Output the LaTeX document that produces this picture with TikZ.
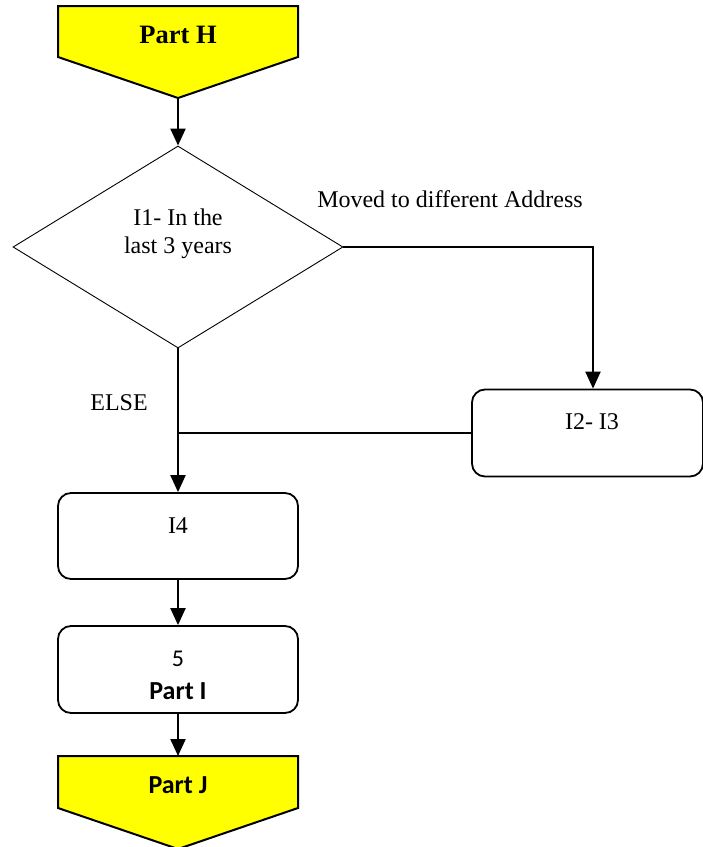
\documentclass[tikz,border=0pt]{standalone}
\usepackage{fontspec}
\setmainfont{Liberation Serif}
\newfontfamily\calibri{Carlito}
\usetikzlibrary{shapes.geometric,arrows.meta}
\definecolor{partyellow}{RGB}{255,255,0}
\begin{document}
\begin{tikzpicture}[x=1pt,y=-1pt,
  conn/.style={line width=2.2pt,-{Triangle[width=15pt,length=17pt]}},
  plain/.style={line width=1.6pt},
  rbox/.style={draw,line width=1.8pt,rounded corners=13pt,inner sep=0pt},
  txt/.style={font=\fontsize{24}{28}\selectfont,inner sep=0pt,align=center},
  offpage/.style={draw,line width=2pt,fill=partyellow}]
\useasboundingbox (0,0) rectangle (703,847);
% Part H
\draw[offpage] (58,6) -- (298,6) -- (298,57) -- (178,98) -- (58,57) -- cycle;
\coordinate (Htip) at (178,98);
\node[txt,font=\fontsize{26.5}{30}\selectfont\bfseries] (Htxt) at (178,35) {Part H};
% Decision
\node[draw,diamond,line width=0.9pt,minimum width=330pt,minimum height=202pt,inner sep=0pt] (D) at (178,247) {};
\node[txt] (Dtxt) at (178,234) {I1- In the\\last 3 years};
% I2-I3
\node[rbox,minimum width=231pt,minimum height=87pt] (I23) at (587.5,433) {};
\node[txt] (I23txt) at (592,422) {I2- I3};
% I4
\node[rbox,minimum width=240pt,minimum height=86pt] (I4) at (178,536) {};
\node[txt] (I4txt) at (178,526) {I4};
% 5 Part I
\node[rbox,minimum width=240pt,minimum height=87pt] (B5) at (178,669.5) {};
\node[txt,font=\fontsize{24}{28}\calibri] (B5a) at (178,659) {5};
\node[txt,font=\fontsize{26}{30}\calibri\bfseries] (B5b) at (178,691) {Part I};
% Part J
\draw[offpage] (58,756) -- (298,756) -- (298,808) -- (178,849) -- (58,808) -- cycle;
\coordinate (Jtop) at (178,756);
\node[txt,font=\fontsize{26}{30}\calibri\bfseries] (Jtxt) at (178,785) {Part J};
% labels
\node[txt] (mv) at (450,199) {Moved to different Address};
\node[txt] (else) at (119,403) {ELSE};
% connectors
\coordinate (turn) at (593,247);
\coordinate (join) at (178,433);
\draw[conn] (Htip) -- (D.north);
\draw[conn] (D.east) -- (turn) -- (turn |- I23.north);
\draw[conn] (D.south) -- (I4.north);
\draw[plain] (I23.west) -- (join);
\draw[conn] (I4.south) -- (B5.north);
\draw[conn] (B5.south) -- (Jtop);
\end{tikzpicture}
\end{document}
